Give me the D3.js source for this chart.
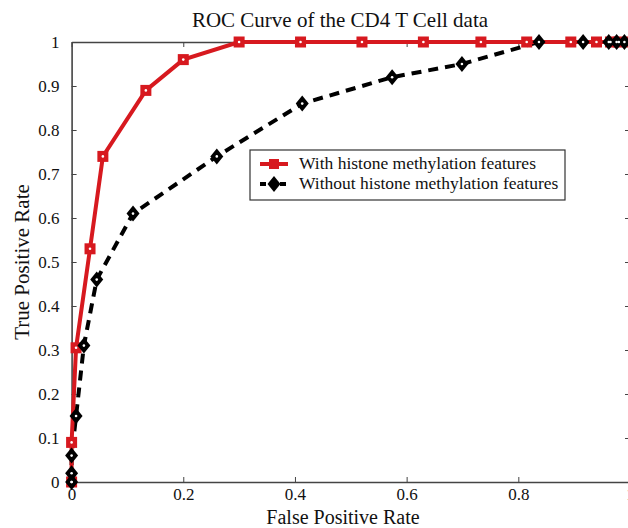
<!DOCTYPE html>
<html>
<head>
<meta charset="utf-8">
<script src="https://cdn.jsdelivr.net/npm/d3@7"></script>
<style>
  body { margin: 0; background: #fff; }
  svg text { font-family: "Liberation Serif", "Times New Roman", serif; }
</style>
</head>
<body>
<div id="chart"></div>
<script>
// ROC points
const withFpr = [0, 0, 0.008, 0.033, 0.056, 0.133, 0.2, 0.3, 0.41, 0.52, 0.63, 0.733, 0.815, 0.894, 0.94, 0.965, 0.98, 1];
const withTpr = [0, 0.09, 0.305, 0.53, 0.74, 0.89, 0.96, 1, 1, 1, 1, 1, 1, 1, 1, 1, 1, 1];

const withoutFpr = [0, 0, 0, 0.008, 0.022, 0.045, 0.11, 0.26, 0.413, 0.574, 0.699, 0.837, 0.916, 0.962, 0.976, 0.99];
const withoutTpr = [0, 0.02, 0.06, 0.15, 0.31, 0.46, 0.61, 0.74, 0.86, 0.92, 0.95, 1, 1, 1, 1, 1];

const xTicks = [0, 0.2, 0.4, 0.6, 0.8, 1];
const yTicks = [0, 0.1, 0.2, 0.3, 0.4, 0.5, 0.6, 0.7, 0.8, 0.9, 1];
const seriesNames = ["With histone methylation features", "Without histone methylation features"];

const W = 628, H = 528;
const m = {left: 71.6, top: 42, right: -2, bottom: 46};

const svg = d3.select("#chart").append("svg")
    .attr("width", W)
    .attr("height", H);

const x = d3.scaleLinear().domain([0, 1]).range([m.left, W - m.right]);
const y = d3.scaleLinear().domain([0, 1]).range([H - m.bottom, m.top]);

const fmt = d => d === 0 || d === 1 ? String(d) : d.toFixed(1);

// frame with inward ticks on all four sides
const axisCol = "#444";
const gx = svg.append("g").attr("transform", `translate(0,${y(0)})`)
    .call(d3.axisBottom(x).tickValues(xTicks).tickFormat(fmt).tickSizeInner(-5).tickSizeOuter(0).tickPadding(6));
const gxt = svg.append("g").attr("transform", `translate(0,${y(1)})`)
    .call(d3.axisTop(x).tickValues(xTicks).tickFormat("").tickSizeInner(-5).tickSizeOuter(0));
const gy = svg.append("g").attr("transform", `translate(${x(0)},0)`)
    .call(d3.axisLeft(y).tickValues(yTicks).tickFormat(fmt).tickSizeInner(-5).tickSizeOuter(0).tickPadding(12));
const gyr = svg.append("g").attr("transform", `translate(${x(1)},0)`)
    .call(d3.axisRight(y).tickValues(yTicks).tickFormat("").tickSizeInner(-5).tickSizeOuter(0));

[gx, gxt, gy, gyr].forEach(g => {
    g.select(".domain").attr("stroke", axisCol).attr("stroke-width", 1.6);
    g.selectAll(".tick line").attr("stroke", axisCol);
    g.selectAll("text").attr("font-size", 17).attr("fill", "#111")
        .style("font-family", "'Liberation Serif', serif");
});

// lines
const line = d3.line().x(d => x(d[0])).y(d => y(d[1]));
const withPts = withFpr.map((v, i) => [v, withTpr[i]]);
const withoutPts = withoutFpr.map((v, i) => [v, withoutTpr[i]]);
const red = "#d7191f";

svg.append("path").datum(withoutPts)
    .attr("d", line).attr("fill", "none")
    .attr("stroke", "#000").attr("stroke-width", 4)
    .attr("stroke-dasharray", "10,7");

svg.append("path").datum(withPts)
    .attr("d", line).attr("fill", "none")
    .attr("stroke", red).attr("stroke-width", 4);

// diamond marker: about 13 wide, 16 tall
const diamond = "M0,-8L6.5,0L0,8L-6.5,0Z";

svg.append("g").selectAll("rect")
    .data(withPts)
    .join("rect")
    .attr("x", d => x(d[0]) - 5.5)
    .attr("y", d => y(d[1]) - 5.5)
    .attr("width", 11).attr("height", 11)
    .attr("fill", red);

svg.append("g").selectAll("path")
    .data(withoutPts)
    .join("path")
    .attr("d", diamond)
    .attr("transform", d => `translate(${x(d[0])},${y(d[1])})`)
    .attr("fill", "#000");

// small white dots inside markers
svg.append("g").selectAll("circle")
    .data(withPts.concat(withoutPts))
    .join("circle")
    .attr("cx", d => x(d[0])).attr("cy", d => y(d[1]))
    .attr("r", 1.3).attr("fill", "#fff");

// legend
const lg = svg.append("g").attr("transform", "translate(250,150)");
lg.append("rect").attr("width", 315).attr("height", 50)
    .attr("fill", "#fff").attr("stroke", "#333").attr("stroke-width", 1.2);
seriesNames.forEach((name, i) => {
    const yy = 14 + i * 20;
    lg.append("line").attr("x1", 10).attr("x2", 38).attr("y1", yy).attr("y2", yy)
        .attr("stroke", i === 0 ? red : "#000").attr("stroke-width", 4)
        .attr("stroke-dasharray", i === 0 ? null : "6,4");
    if (i === 0) {
        lg.append("rect").attr("x", 19).attr("y", yy - 5).attr("width", 10).attr("height", 10).attr("fill", red);
    } else {
        lg.append("path").attr("d", diamond)
            .attr("transform", `translate(24,${yy})`).attr("fill", "#000");
    }
    lg.append("text").attr("x", 49).attr("y", yy + 5)
        .attr("font-size", 17.5).attr("fill", "#111").text(name);
});

// titles
svg.append("text").attr("x", 340).attr("y", 27).attr("text-anchor", "middle")
    .attr("font-size", 21).attr("fill", "#111").text("ROC Curve of the CD4 T Cell data");
svg.append("text").attr("x", 343).attr("y", 523.5).attr("text-anchor", "middle")
    .attr("font-size", 20).attr("fill", "#111").text("False Positive Rate");
svg.append("text").attr("transform", "translate(29,262) rotate(-90)").attr("text-anchor", "middle")
    .attr("font-size", 21).attr("fill", "#111").text("True Positive Rate");
</script>
</body>
</html>
